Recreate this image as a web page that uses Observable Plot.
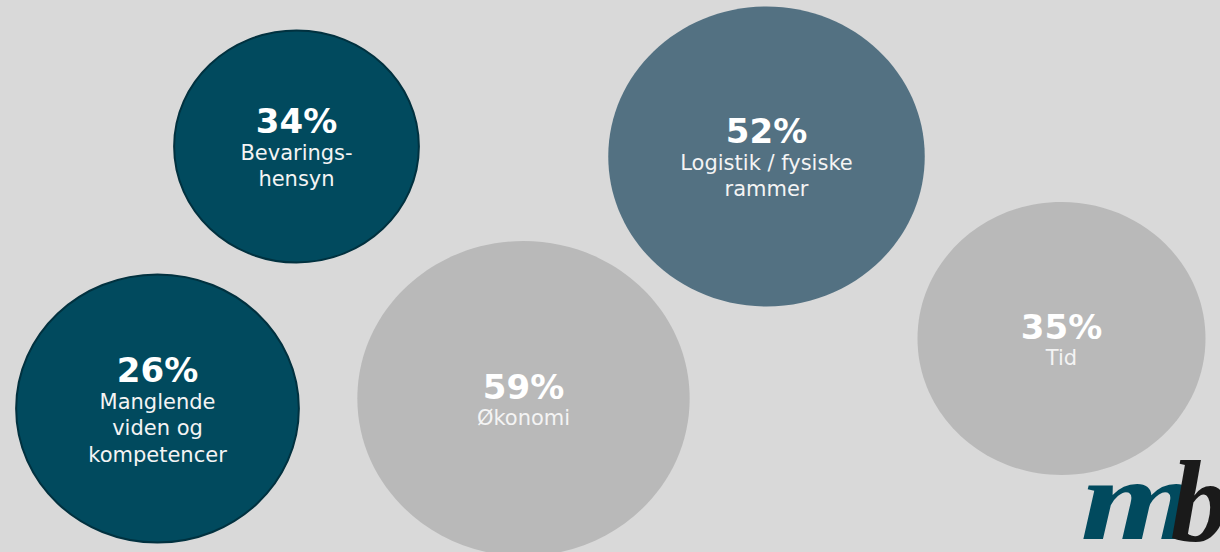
<!DOCTYPE html>
<html>
<head>
<meta charset="utf-8">
<script src="https://cdn.jsdelivr.net/npm/d3@7"></script>
<script src="https://cdn.jsdelivr.net/npm/@observablehq/plot@0.6"></script>
<style>
  html, body { margin: 0; padding: 0; background: #d9d9d9; overflow: hidden; }
  #chart svg { display: block; background: #d9d9d9; }
</style>
</head>
<body>
<div id="chart"></div>
<script>
// ---- data ----
const categories = ["Bevaringshensyn", "Manglende viden og kompetencer", "Økonomi", "Logistik / fysiske rammer", "Tid"];
const shares = [34, 26, 59, 52, 35];
const labels = ["Bevarings-\nhensyn", "Manglende\nviden og\nkompetencer", "Økonomi", "Logistik / fysiske\nrammer", "Tid"];
const groups = ["dark", "dark", "light", "mid", "light"];
const bubbleX = [296, 157, 523, 766, 1061];
const bubbleY = [146, 408, 398, 156, 338];
const bubbleR = [116, 134, 157.5, 150, 136.5];
const logoParts = ["m", "b"];

const data = categories.map((c, i) => ({
  category: c,
  share: shares[i],
  label: labels[i],
  group: groups[i],
  x: bubbleX[i],
  y: bubbleY[i],
  r: bubbleR[i],
  nLines: labels[i].split("\n").length
}));

// ellipse symbol (slightly wider than tall, like the slide)
const STRETCH = 1.055;
const K = 0.5522847498;
const ellipse = {
  draw(ctx, size) {
    const ry = Math.sqrt(size / Math.PI);
    const rx = ry * STRETCH;
    ctx.moveTo(rx, 0);
    ctx.bezierCurveTo(rx, K * ry, K * rx, ry, 0, ry);
    ctx.bezierCurveTo(-K * rx, ry, -rx, K * ry, -rx, 0);
    ctx.bezierCurveTo(-rx, -K * ry, -K * rx, -ry, 0, -ry);
    ctx.bezierCurveTo(K * rx, -ry, rx, -K * ry, rx, 0);
    ctx.closePath();
  }
};

const fillOf = {dark: "#014a5e", mid: "#537182", light: "#b9b9b9"};
const strokeOf = {dark: "#01313f", mid: "none", light: "none"};

const LINE = 26.5;
const PCT_SIZE = 34;
const LABEL_SIZE = 21;

const logoStyle = {
  frameAnchor: "bottom-right",
  text: d => d,
  lineAnchor: "bottom",
  textAnchor: "start",
  fontSize: 116,
  fontWeight: "bold",
  fontStyle: "italic",
  fontFamily: "'Liberation Serif', 'Times New Roman', serif"
};

const plot = Plot.plot({
  width: 1220,
  height: 552,
  margin: 0,
  style: {background: "#d9d9d9", fontFamily: "'DejaVu Sans', Verdana, sans-serif"},
  x: {domain: [0, 1220], axis: null},
  y: {domain: [0, 552], range: [0, 552], axis: null},
  r: {type: "identity"},
  marks: [
    Plot.dot(data, {
      x: "x", y: "y", r: "r",
      symbol: ellipse,
      fill: d => fillOf[d.group],
      stroke: d => strokeOf[d.group],
      strokeWidth: 2
    }),
    Plot.text(data, {
      x: "x", y: "y",
      text: d => d.share + "%" + "\n".repeat(d.nLines),
      lineAnchor: "middle",
      lineHeight: LINE / PCT_SIZE,
      fontSize: PCT_SIZE,
      fontWeight: "bold",
      fill: "white",
      dy: 5
    }),
    Plot.text(data, {
      x: "x", y: "y",
      text: d => "\n" + d.label,
      lineAnchor: "middle",
      lineHeight: LINE / LABEL_SIZE,
      fontSize: LABEL_SIZE,
      fill: "#f4f4f4",
      dy: 5
    }),
    Plot.text([logoParts[0]], {...logoStyle, dx: -140, dy: -14, fill: "#014a5e"}),
    Plot.text([logoParts[1]], {...logoStyle, dx: -50, dy: -12, fill: "#1a1a1a"})
  ]
});
// widen the "m" of the logo, like the original wordmark (keep Plot's own translate)
d3.select(plot).selectAll("text")
  .filter(function () { return this.textContent === logoParts[0]; })
  .each(function () {
    const t = this.getAttribute("transform") || "";
    this.setAttribute("transform", (t + " scale(1.3,1)").trim());
  });
document.getElementById("chart").appendChild(plot);
</script>
</body>
</html>
